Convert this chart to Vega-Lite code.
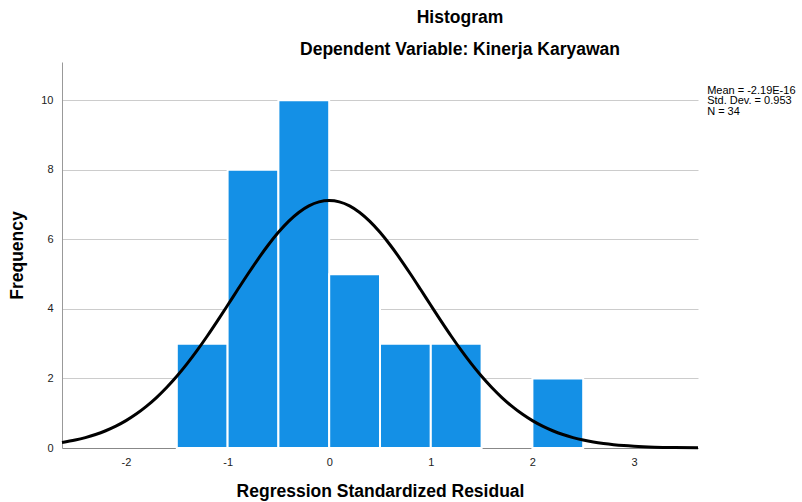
{
  "$schema": "https://vega.github.io/schema/vega-lite/v6.json",
  "autosize": "none",
  "width": 636,
  "height": 386,
  "padding": {"left": 62, "top": 62, "right": 104, "bottom": 54},
  "background": "white",
  "title": {
    "text": "Histogram",
    "subtitle": "Dependent Variable: Kinerja Karyawan",
    "anchor": "middle",
    "frame": "group",
    "dx": 80,
    "font": "Liberation Sans",
    "fontSize": 17.5,
    "fontWeight": "bold",
    "color": "#000000",
    "subtitleFont": "Liberation Sans",
    "subtitleFontSize": 17.5,
    "subtitleFontWeight": "bold",
    "subtitleColor": "#000000",
    "subtitlePadding": 14,
    "offset": 4
  },
  "config": {
    "view": {"stroke": null},
    "axis": {
      "labelFont": "Liberation Sans",
      "labelFontSize": 11,
      "labelColor": "#222222",
      "titleFont": "Liberation Sans",
      "titleFontSize": 17.5,
      "titleFontWeight": "bold",
      "titleColor": "#000000",
      "domainColor": "#999999",
      "tickSize": 0,
      "gridColor": "#cccccc"
    }
  },
  "datasets": {
    "bins": [
      {"start": -1.5, "end": -1.0, "count": 3},
      {"start": -1.0, "end": -0.5, "count": 8},
      {"start": -0.5, "end": 0.0, "count": 10},
      {"start": 0.0, "end": 0.5, "count": 5},
      {"start": 0.5, "end": 1.0, "count": 3},
      {"start": 1.0, "end": 1.5, "count": 3},
      {"start": 2.0, "end": 2.5, "count": 2}
    ],
    "curve": [
      {"x": -2.63, "y": 0.158},
      {"x": -2.5, "y": 0.228},
      {"x": -2.4, "y": 0.299},
      {"x": -2.3, "y": 0.387},
      {"x": -2.2, "y": 0.496},
      {"x": -2.1, "y": 0.628},
      {"x": -2.0, "y": 0.787},
      {"x": -1.9, "y": 0.975},
      {"x": -1.8, "y": 1.196},
      {"x": -1.7, "y": 1.450},
      {"x": -1.6, "y": 1.739},
      {"x": -1.5, "y": 2.062},
      {"x": -1.4, "y": 2.419},
      {"x": -1.3, "y": 2.807},
      {"x": -1.2, "y": 3.221},
      {"x": -1.1, "y": 3.656},
      {"x": -1.0, "y": 4.104},
      {"x": -0.9, "y": 4.557},
      {"x": -0.8, "y": 5.004},
      {"x": -0.7, "y": 5.434},
      {"x": -0.6, "y": 5.837},
      {"x": -0.5, "y": 6.202},
      {"x": -0.4, "y": 6.517},
      {"x": -0.3, "y": 6.773},
      {"x": -0.2, "y": 6.962},
      {"x": -0.1, "y": 7.078},
      {"x": 0.0, "y": 7.117},
      {"x": 0.1, "y": 7.078},
      {"x": 0.2, "y": 6.962},
      {"x": 0.3, "y": 6.773},
      {"x": 0.4, "y": 6.517},
      {"x": 0.5, "y": 6.202},
      {"x": 0.6, "y": 5.837},
      {"x": 0.7, "y": 5.434},
      {"x": 0.8, "y": 5.004},
      {"x": 0.9, "y": 4.557},
      {"x": 1.0, "y": 4.104},
      {"x": 1.1, "y": 3.656},
      {"x": 1.2, "y": 3.221},
      {"x": 1.3, "y": 2.807},
      {"x": 1.4, "y": 2.419},
      {"x": 1.5, "y": 2.062},
      {"x": 1.6, "y": 1.739},
      {"x": 1.7, "y": 1.450},
      {"x": 1.8, "y": 1.196},
      {"x": 1.9, "y": 0.975},
      {"x": 2.0, "y": 0.787},
      {"x": 2.1, "y": 0.628},
      {"x": 2.2, "y": 0.496},
      {"x": 2.3, "y": 0.387},
      {"x": 2.4, "y": 0.299},
      {"x": 2.5, "y": 0.228},
      {"x": 2.6, "y": 0.172},
      {"x": 2.7, "y": 0.129},
      {"x": 2.8, "y": 0.095},
      {"x": 2.9, "y": 0.069},
      {"x": 3.0, "y": 0.050},
      {"x": 3.2, "y": 0.025},
      {"x": 3.4, "y": 0.012},
      {"x": 3.63, "y": 0.005}
    ],
    "stats": [
      {"label": ["Mean = -2.19E-16", "Std. Dev. = 0.953", "N = 34"]}
    ]
  },
  "layer": [
    {
      "data": {"name": "bins"},
      "mark": {"type": "rect", "color": "#1490E6", "stroke": "white", "strokeWidth": 2},
      "encoding": {
        "x": {
          "field": "start",
          "type": "quantitative",
          "scale": {"domain": [-2.63, 3.63], "nice": false, "zero": false},
          "axis": {
            "values": [-2, -1, 0, 1, 2, 3],
            "labelExpr": "'' + datum.value",
            "grid": false,
            "title": "Regression Standardized Residual",
            "labelPadding": 8,
            "titlePadding": 15,
            "domainColor": "#888888"
          }
        },
        "x2": {"field": "end"},
        "y": {
          "field": "count",
          "type": "quantitative",
          "scale": {"domain": [0, 11.1], "nice": false},
          "axis": {
            "values": [0, 2, 4, 6, 8, 10],
            "grid": true,
            "title": "Frequency",
            "labelPadding": 9,
            "titlePadding": 14
          }
        },
        "y2": {"datum": 0}
      }
    },
    {
      "data": {"name": "curve"},
      "mark": {"type": "line", "color": "#000000", "strokeWidth": 3, "interpolate": "monotone"},
      "encoding": {
        "x": {"field": "x", "type": "quantitative"},
        "y": {"field": "y", "type": "quantitative"}
      }
    },
    {
      "data": {"name": "stats"},
      "mark": {"type": "text", "align": "left", "baseline": "top", "font": "Liberation Sans", "fontSize": 11, "lineHeight": 10.5, "color": "#000000", "clip": false},
      "encoding": {
        "x": {"datum": 3.72},
        "y": {"datum": 10.45},
        "text": {"field": "label"}
      }
    }
  ]
}
